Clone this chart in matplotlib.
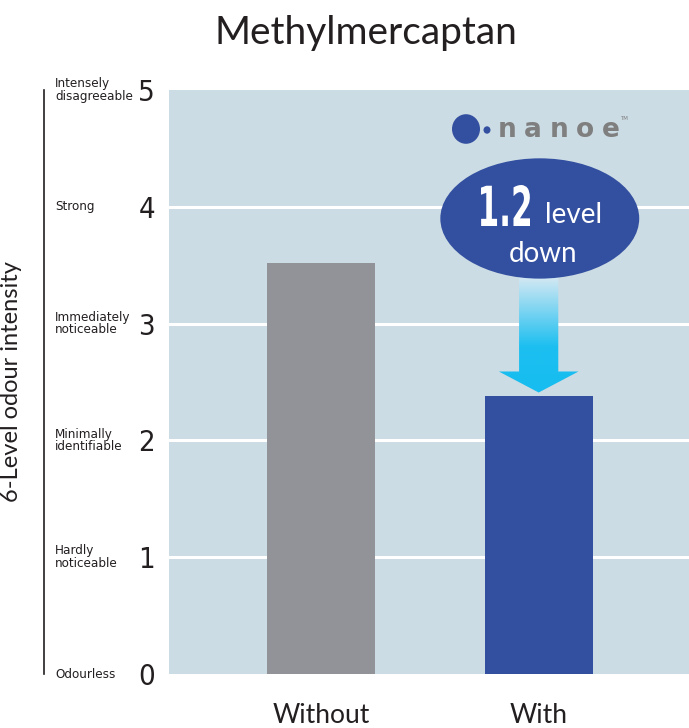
import numpy as np
import matplotlib
matplotlib.use("Agg")
import matplotlib.pyplot as plt
import matplotlib.transforms as mtransforms
from matplotlib.patches import Ellipse, Polygon, Circle, PathPatch
from matplotlib.lines import Line2D
from matplotlib.colors import LinearSegmentedColormap
from matplotlib.textpath import TextPath
from matplotlib.font_manager import FontProperties

categories = ["Without", "With"]
values = [3.52, 2.38]
bar_colors = ["#929398", "#334FA0"]
levels = [0, 1, 2, 3, 4, 5]
level_names = ["Odourless", "Hardly\nnoticeable", "Minimally\nidentifiable",
               "Immediately\nnoticeable", "Strong", "Intensely\ndisagreeable"]
reduction_text = "1.2"

W, H = 689, 728
fig = plt.figure(figsize=(W / 100, H / 100), dpi=100)
ax = fig.add_axes([169 / W, 1 - 674 / H, 520 / W, (674 - 90) / H])

bg = "#CCDCE4"
ink = "#231F20"
ax.set_facecolor(bg)
for s in ax.spines.values():
    s.set_visible(False)

x = np.arange(len(categories))
ax.set_xlim(-0.697, 1.69)
ax.set_ylim(0, 5)
for lv in levels[1:-1]:
    ax.axhline(lv, color="white", lw=2.2, zorder=1)
ax.bar(x, values, width=0.495, color=bar_colors, zorder=2)

# ticks
ax.set_yticks(levels)
ax.set_yticklabels([str(v) for v in levels], fontsize=21, color=ink,
                   family="DejaVu Sans", stretch="condensed")
ax.tick_params(axis="y", length=0, pad=10)
ax.set_xticks(x)
ax.set_xticklabels(categories, fontsize=19, color=ink, family="Lato")
ax.tick_params(axis="x", length=0, pad=21)

# level descriptions
tr = mtransforms.blended_transform_factory(fig.transFigure, ax.transData)
for lv, name in zip(levels, level_names):
    ax.text(55 / W, lv, name, transform=tr, ha="left", va="center",
            fontsize=9.6, family="DejaVu Sans", stretch="condensed", color=ink,
            linespacing=0.95, clip_on=False)

# black line at left
trl = mtransforms.blended_transform_factory(fig.transFigure, ax.transAxes)
fig.add_artist(Line2D([44 / W, 44 / W], [0, 1], transform=trl, color=ink, lw=1.2))

ax.set_ylabel("6-Level odour intensity", fontsize=17, color=ink, family="Lato")
ax.yaxis.set_label_coords(-0.283, 0.5)

fig.text(366 / W, 1 - 33 / H, "Methylmercaptan", ha="center", va="center",
         fontsize=28, color=ink, family="Lato")

# gradient arrow
sx0, sx1 = 1.0 - 0.09, 1.0 + 0.09
hx0, hx1 = 1.0 - 0.183, 1.0 + 0.183
ytop, yneck, ytip = 3.40, 2.59, 2.41
arrow = Polygon([(sx0, ytop), (sx1, ytop), (sx1, yneck), (hx1, yneck),
                 (1.0, ytip), (hx0, yneck), (sx0, yneck)], closed=True,
                facecolor="none", edgecolor="none", zorder=3)
ax.add_patch(arrow)
cmap = LinearSegmentedColormap.from_list("arr", [(0, "#D4E8F3"), (0.6, "#1CBFF0"), (1, "#17BDF0")])
grad = np.linspace(0, 1, 256).reshape(-1, 1)
im = ax.imshow(grad, cmap=cmap, aspect="auto", extent=(hx0, hx1, ytip, ytop),
               origin="upper", zorder=3)
im.set_clip_path(arrow)

# ellipse callout
ax.add_patch(Ellipse((1.005, 3.90), 0.913, 1.03, facecolor="#334FA0",
                     edgecolor="none", zorder=4))

# tall narrow "1.2": text path squeezed to 49 x 41 px, left at x=481, baseline y=226
tp = TextPath((0, 0), reduction_text, size=1,
              prop=FontProperties(family="DejaVu Sans", weight="bold", stretch="condensed"))
ext = tp.get_extents()
big_tr = (mtransforms.Affine2D().translate(-ext.x0, -ext.y0)
          .scale(0.49 / ext.width, 0.41 / ext.height)
          .translate(4.81, (H - 226) / 100) + fig.dpi_scale_trans)
fig.add_artist(PathPatch(tp, transform=big_tr, facecolor="white", edgecolor="none", zorder=5))

ax.text(1.03, 3.86, "level", fontsize=20, color="white", family="Lato",
        ha="left", va="baseline", zorder=5)
ax.text(1.02, 3.53, "down", fontsize=20, color="white", family="Lato",
        ha="center", va="baseline", zorder=5)

# nanoe logo
ax.add_patch(Circle((466 / W, 1 - 129 / H), 14 / W, transform=fig.transFigure,
                    facecolor="#334FA0", edgecolor="none", zorder=4))
ax.add_patch(Circle((487 / W, 1 - 130 / H), 3.5 / W, transform=fig.transFigure,
                    facecolor="#334FA0", edgecolor="none", zorder=4))
for i, ch in enumerate("nanoe"):
    fig.text((507 + i * 26) / W, 1 - 130 / H, ch, ha="center", va="center",
             fontsize=19, fontweight="bold", color="#7F7F7F", family="DejaVu Sans")
fig.text(624 / W, 1 - 119 / H, "TM", fontsize=4, color="#7F7F7F", ha="center", va="center")

fig.savefig("out.png", dpi=100)
